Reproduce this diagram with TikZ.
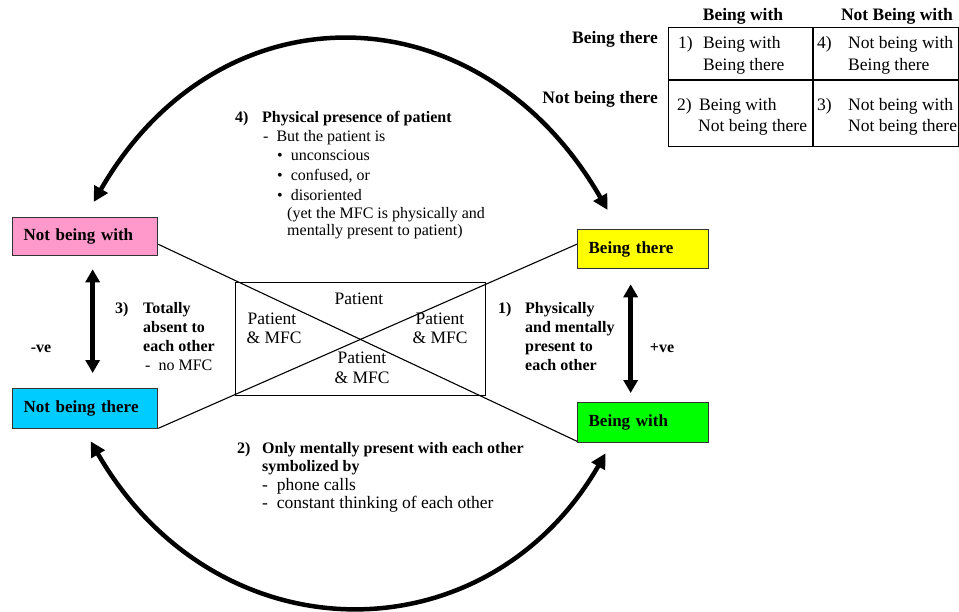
\documentclass[tikz,border=0pt]{standalone}
\usepackage{fontspec}
\setmainfont{Liberation Serif}
\usetikzlibrary{arrows.meta,calc}
\definecolor{pinkfill}{HTML}{FF99CC}
\definecolor{cyanfill}{HTML}{00CCFF}
\definecolor{yellowfill}{HTML}{FFFF00}
\definecolor{greenfill}{HTML}{00FF00}
\newcommand{\bigsize}{\fontsize{17.5}{21}\selectfont}
\newcommand{\boxsize}{\fontsize{17}{20}\selectfont}
\begin{document}
\fontsize{16}{19}\selectfont
\begin{tikzpicture}[x=1pt,y=-1pt,
  lbl/.style={anchor=base west,inner sep=0pt},
  lblc/.style={anchor=base,inner sep=0pt},
  lble/.style={anchor=base east,inner sep=0pt},
  big/.style={font=\bigsize},
  bigbold/.style={font=\bigsize\bfseries},
  statebox/.style={draw=black!80,line width=1.3pt,anchor=north west,
    minimum height=38pt,inner xsep=11pt,align=left,font=\boxsize\bfseries},
  widebox/.style={statebox,text width=123pt},
  narrowbox/.style={statebox,text width=109pt},
  link/.style={line width=1.1pt},
  dblarrow/.style={line width=4.5pt,
    {Triangle[length=13pt,width=14pt]}-{Triangle[length=13pt,width=14pt]}},
  bigarc/.style={line width=4.5pt,
    {Triangle[length=15pt,width=15pt]}-{Triangle[length=15pt,width=15pt]}},
  grid/.style={line width=1.3pt}]
\useasboundingbox (0,0) rectangle (959,611);

% the four states
\node[widebox,fill=pinkfill] (nbw) at (12,217) {Not being with};
\node[widebox,fill=cyanfill,minimum height=40pt] (nbt) at (12,388) {Not being there};
\node[narrowbox,fill=yellowfill,minimum height=39pt] (bt) at (577,229) {Being there};
\node[narrowbox,fill=greenfill,minimum height=40pt] (bw) at (577,402) {Being with};

% central crossed rectangle
\node[draw,line width=1.3pt,minimum width=250pt,minimum height=113pt,inner sep=0pt,
  anchor=north west] (core) at (235,282) {};
\draw[link] ([yshift=12pt]nbw.south east) -- ([yshift=2pt]bw.south west);
\draw[link] ([yshift=1pt]nbt.south east) -- ([yshift=5pt]bt.west);

\node[lblc,big] (pt) at (359,304) {Patient};
\node[lblc,big] (lpa) at (272,324) {Patient};
\node[lblc,big] (lpb) at (274,343) {\& MFC};
\node[lblc,big] (rpa) at (440,324) {Patient};
\node[lblc,big] (rpb) at (440,343) {\& MFC};
\node[lblc,big] (bpa) at (362,363) {Patient};
\node[lblc,big] (bpb) at (362,383) {\& MFC};

% vertical double arrows
\draw[dblarrow] ([xshift=7.5pt,yshift=-13pt]nbw.south) -- ([xshift=7.5pt,yshift=15pt]nbt.north);
\draw[dblarrow] ([xshift=-12.5pt,yshift=-15pt]bt.south) -- ([xshift=-12.5pt,yshift=9pt]bw.north);

\node[lblc,font=\bfseries] (neg) at (41,352) {-ve};
\node[lblc,font=\bfseries] (pos) at (662,352) {+ve};

% 3) totally absent
\node[lbl,font=\bfseries] (n3) at (115,313) {3)};
\node[lbl,font=\bfseries] (n3a) at (143,313) {Totally};
\node[lbl,font=\bfseries] (n3b) at (143,332) {absent to};
\node[lbl,font=\bfseries] (n3c) at (143,351) {each other};
\node[lbl] (n3d) at (145,370) {-\ \ no MFC};

% 1) physically and mentally present
\node[lbl,font=\bfseries] (n1) at (498,313) {1)};
\node[lbl,font=\bfseries] (n1a) at (525,313) {Physically};
\node[lbl,font=\bfseries] (n1b) at (525,332) {and mentally};
\node[lbl,font=\bfseries] (n1c) at (525,351) {present to};
\node[lbl,font=\bfseries] (n1d) at (525,370) {each other};

% 4) physical presence of patient
\node[lbl,font=\bfseries] (n4) at (235,122) {4)};
\node[lbl,font=\bfseries] (n4a) at (262,122) {Physical presence of patient};
\node[lbl] (n4b) at (263,141) {-\ \ But the patient is};
\node[lbl] (n4c) at (277,160) {\textbullet\ \ unconscious};
\node[lbl] (n4d) at (277,180) {\textbullet\ \ confused, or};
\node[lbl] (n4e) at (277,200) {\textbullet\ \ disoriented};
\node[lbl] (n4f) at (287,218) {(yet the MFC is physically and};
\node[lbl] (n4g) at (287,235) {mentally present to patient)};

% 2) only mentally present
\node[lbl,font=\bfseries] (n2) at (237,453) {2)};
\node[lbl,font=\bfseries] (n2a) at (262,453) {Only mentally present with each other};
\node[lbl,font=\bfseries] (n2b) at (262,471) {symbolized by};
\node[lbl,big] (n2c) at (262,490) {-\ \ phone calls};
\node[lbl,big] (n2d) at (262,508) {-\ \ constant thinking of each other};

% curved transitions
\coordinate (tl) at ($(nbw.north)+(8.5,-15)$);
\coordinate (tr) at ($(bt.north)+(-35.5,-19)$);
\coordinate (bl) at ($(nbt.south)+(5.5,12)$);
\coordinate (br) at ($(bw.south)+(-37.5,10)$);
\draw[bigarc] (tl) .. controls +(126,-219) and +(-128,-222) .. (tr);
\draw[bigarc] (bl) .. controls +(126,218) and +(-119,206) .. (br);

% summary table
\node[draw,grid,minimum width=290pt,minimum height=119pt,inner sep=0pt,anchor=north west] (tab) at (668,27) {};
\draw[grid] ($(tab.north west)+(145,0)$) -- ($(tab.south west)+(145,0)$);
\draw[grid] ($(tab.north west)+(0,53)$) -- ($(tab.north east)+(0,53)$);

\node[lblc,bigbold] (h1) at (743,20) {Being with};
\node[lblc,bigbold] (h2) at (897,20) {Not Being with};
\node[lble,bigbold] (r1) at (658,43) {Being there};
\node[lble,bigbold] (r2) at (658,103) {Not being there};

\node[lbl,big] (c1n) at (678,48) {1)};
\node[lbl,big] (c1a) at (703,48) {Being with};
\node[lbl,big] (c1b) at (703,70) {Being there};
\node[lbl,big] (c2n) at (677,110) {2)};
\node[lbl,big] (c2a) at (699,110) {Being with};
\node[lbl,big] (c2b) at (698,131) {Not being there};
\node[lbl,big] (c4n) at (817,48) {4)};
\node[lbl,big] (c4a) at (848,48) {Not being with};
\node[lbl,big] (c4b) at (848,70) {Being there};
\node[lbl,big] (c3n) at (817,110) {3)};
\node[lbl,big] (c3a) at (848,110) {Not being with};
\node[lbl,big] (c3b) at (848,131) {Not being there};
\end{tikzpicture}
\end{document}
